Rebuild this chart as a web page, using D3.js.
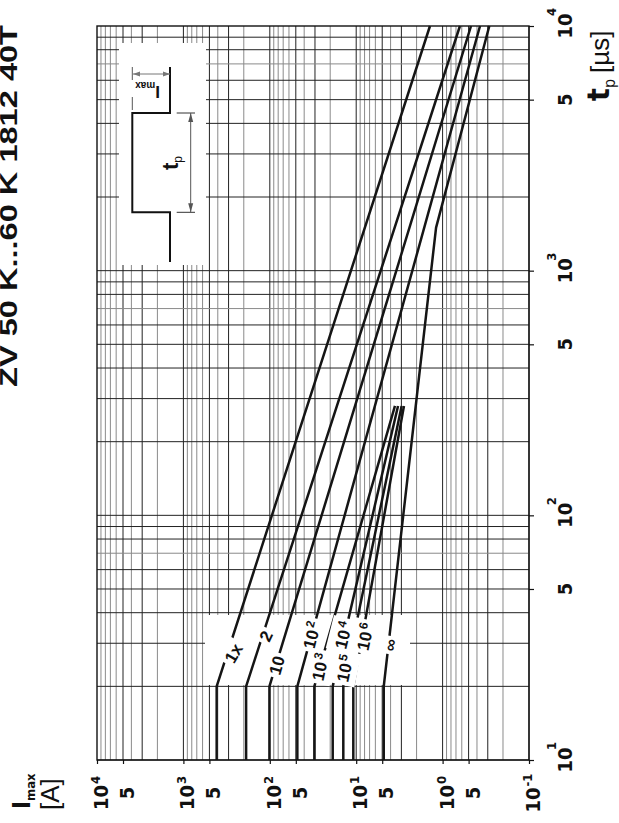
<!DOCTYPE html>
<html>
<head>
<meta charset="utf-8">
<script src="https://cdn.jsdelivr.net/npm/d3@7/dist/d3.min.js"></script>
<style>
  body { margin: 0; background: #fff; }
  svg { display: block; }
  text { font-family: "Liberation Sans Narrow", "DejaVu Sans Condensed", "Liberation Sans", Arial, sans-serif; fill: #111; }
</style>
</head>
<body>
<svg id="chart" width="619" height="823"></svg>
<script>
// the chart is a datasheet plot turned on its side:
// I_max runs left -> right (10^4 .. 10^-1), t_p runs bottom -> top (10 .. 10^4 us)

// surge curves, one entry per number of pulses
var curveNames = ["1x", "2", "10", "10", "10", "10", "10", "10", "\u221e"];
var curveExps  = ["", "", "", "2", "3", "4", "5", "6", ""];
var curveTp = [
  [10, 20, 10000],
  [10, 20, 10000],
  [10, 20, 10000],
  [10, 20, 10000],
  [10, 20, 280],
  [10, 20, 280],
  [10, 20, 280],
  [10, 20, 280],
  [10, 20, 1500, 10000]
];
var curveI = [
  [412, 412, 1.40],
  [188, 188, 0.63],
  [101, 101, 0.469],
  [48, 48, 0.369],
  [30.5, 30.5, 3.56],
  [18.7, 18.7, 3.28],
  [14.1, 14.1, 2.98],
  [10.8, 10.8, 2.80],
  [4.8, 4.8, 1.19, 0.288]
];
// where each curve name sits (in data units)
var labelTp = [27.3, 32.1, 24.4, 32.4, 24.0, 32.4, 23.7, 31.9, 29.5];
var labelI  = [264, 111, 83.2, 32.7, 26.2, 14.1, 13.5, 7.9, 4.06];

// tick labels
var iTickValues = [1e4, 5e3, 1e3, 500, 100, 50, 10, 5, 1, 0.5, 0.1];
var iTickBase   = ["10", "5", "10", "5", "10", "5", "10", "5", "10", "5", "10"];
var iTickExp    = ["4", "", "3", "", "2", "", "1", "", "0", "", "-1"];
var tpTickValues = [10, 50, 100, 500, 1000, 5000, 10000];
var tpTickBase   = ["10", "5", "10", "5", "10", "5", "10"];
var tpTickExp    = ["1", "", "2", "", "3", "", "4"];

var title = "ZV 50 K...60 K 1812 40T";

(function () {
var pL = 97, pR = 529, pT = 26, pB = 760;

var x = d3.scaleLog().domain([1e4, 0.1]).range([pL, pR]);
var y = d3.scaleLog().domain([10, 1e4]).range([pB, pT]);

var svg = d3.select("#chart");

// grid values 1..9 x 10^k
var iGrid = [], tpGrid = [];
for (var k = -1; k <= 3; k++) for (var m = 1; m <= 9; m++) iGrid.push({v: m * Math.pow(10, k), m: m});
for (var k = 1; k <= 3; k++) for (var m = 1; m <= 9; m++) tpGrid.push({v: m * Math.pow(10, k), m: m});

var grid = svg.append("g");
grid.selectAll("line.v").data(iGrid).enter().append("line")
  .attr("x1", function (d) { return x(d.v); })
  .attr("x2", function (d) { return x(d.v); })
  .attr("y1", pT).attr("y2", pB)
  .attr("stroke", function (d) { return (d.m == 1 || d.m == 3 || d.m == 5) ? "#222" : "#8a8a8a"; })
  .attr("stroke-width", 1);
grid.selectAll("line.h").data(tpGrid).enter().append("line")
  .attr("y1", function (d) { return y(d.v); })
  .attr("y2", function (d) { return y(d.v); })
  .attr("x1", pL).attr("x2", pR)
  .attr("stroke", function (d) { return (d.m == 7) ? "#8a8a8a" : "#222"; })
  .attr("stroke-width", 1);

// white patches (inset and curve names)
svg.append("rect").attr("x", 119).attr("y", 43).attr("width", 87).attr("height", 222).attr("fill", "#fff");
svg.append("rect").attr("x", 205).attr("y", 615).attr("width", 205).attr("height", 70).attr("fill", "#fff");

// frame
svg.append("rect").attr("x", pL).attr("y", pT).attr("width", pR - pL).attr("height", pB - pT)
  .attr("fill", "none").attr("stroke", "#111").attr("stroke-width", 1.4);

// axes ticks
var ax1 = svg.append("g").attr("transform", "translate(0," + pB + ")")
  .call(d3.axisBottom(x).tickValues(iTickValues).tickSize(4).tickFormat(""));
ax1.select(".domain").remove();
var ax2 = svg.append("g").attr("transform", "translate(" + pR + ",0)")
  .call(d3.axisRight(y).tickValues(tpTickValues).tickSize(5).tickFormat(""));
ax2.select(".domain").remove();
svg.selectAll(".tick line").attr("stroke", "#111").attr("stroke-width", 1.2);

// curves
var line = d3.line().x(function (d) { return x(d[1]); }).y(function (d) { return y(d[0]); });
curveTp.forEach(function (tps, i) {
  var pts = tps.map(function (t, j) { return [t, curveI[i][j]]; });
  svg.append("path").attr("d", line(pts)).attr("fill", "none")
    .attr("stroke", "#151515").attr("stroke-width", 2.5).attr("stroke-linejoin", "round");
});

// curve names with white gaps
var labelAngle = [-60, -64, -74, -76, -78, -76, -78, -78, -80];
curveNames.forEach(function (name, i) {
  var lg = svg.append("g")
    .attr("transform", "translate(" + x(labelI[i]) + "," + y(labelTp[i]) + ") rotate(" + labelAngle[i] + ")");
  var bg = lg.append("rect").attr("fill", "#fff");
  var t = lg.append("text").attr("text-anchor", "middle").attr("dy", "0.36em")
    .attr("font-size", 17).attr("font-weight", "bold").style("font-family", "Liberation Sans, Arial, sans-serif");
  t.append("tspan").text(name);
  if (curveExps[i]) t.append("tspan").attr("dy", "-0.5em").attr("dx", 2).attr("font-size", 12).text(curveExps[i]);
  var b = t.node().getBBox();
  bg.attr("x", b.x - 3).attr("y", b.y - 3).attr("width", b.width + 6).attr("height", b.height + 6);
});

// I axis labels (rotated)
iTickValues.forEach(function (v, i) {
  var t = svg.append("g").attr("transform", "translate(" + (x(v) + 11) + ",793) rotate(-90)")
    .append("text").attr("text-anchor", "middle").attr("font-size", 20).attr("font-weight", "bold");
  t.append("tspan").text(iTickBase[i]);
  if (iTickExp[i]) t.append("tspan").attr("dy", -8).attr("dx", 1).attr("font-size", 13).text(iTickExp[i]);
});

// t_p axis labels (rotated)
tpTickValues.forEach(function (v, i) {
  var lg = svg.append("g").attr("transform", "translate(572," + y(v) + ") rotate(-90)");
  lg.append("text").attr("text-anchor", "middle").attr("font-size", 20).attr("font-weight", "bold").text(tpTickBase[i]);
  if (tpTickExp[i]) lg.append("text").attr("x", 10).attr("y", -16).attr("font-size", 13).attr("font-weight", "bold").text(tpTickExp[i]);
});

// axis titles
var at1 = svg.append("g").attr("transform", "translate(30,809) rotate(-90)").append("text");
at1.append("tspan").attr("font-size", 24).attr("font-weight", "bold").text("I");
at1.append("tspan").attr("font-size", 13).attr("font-weight", "bold").attr("dy", 5).text("max");
svg.append("g").attr("transform", "translate(59,810) rotate(-90)").append("text")
  .attr("font-size", 26).style("font-family", "Liberation Sans, Arial, sans-serif").text("[A]");

var at2 = svg.append("g").attr("transform", "translate(609,101) rotate(-90)").append("text");
at2.append("tspan").attr("font-size", 30).attr("font-weight", "bold").text("t");
at2.append("tspan").attr("font-size", 16).attr("dy", 6).text("p");
at2.append("tspan").attr("font-size", 26).attr("dy", -6).attr("dx", 6)
  .style("font-family", "Liberation Sans, Arial, sans-serif").text("[\u00b5s]");

// title
svg.append("g").attr("transform", "translate(17,25) rotate(-90)").append("text")
  .attr("text-anchor", "end").attr("font-size", 24).attr("font-weight", "bold")
  .attr("textLength", 362).attr("lengthAdjust", "spacingAndGlyphs")
  .style("font-family", "Liberation Sans, Arial, sans-serif").text(title);

// inset: pulse sketch
var ins = svg.append("g");
ins.append("path").attr("d", "M170,67 V113 H132.3 V212.3 H170 V262")
  .attr("fill", "none").attr("stroke", "#111").attr("stroke-width", 2);
ins.append("line").attr("x1", 132.3).attr("x2", 132.3).attr("y1", 67).attr("y2", 110)
  .attr("stroke", "#555").attr("stroke-width", 1).attr("stroke-dasharray", "13,17");
ins.append("line").attr("x1", 133).attr("x2", 170).attr("y1", 74).attr("y2", 74)
  .attr("stroke", "#777").attr("stroke-width", 1);
ins.append("path").attr("d", "M133,74 l7,-2.5 v5 z M170,74 l-7,-2.5 v5 z").attr("fill", "#777");
ins.append("line").attr("x1", 176.7).attr("x2", 195).attr("y1", 113).attr("y2", 113).attr("stroke", "#333");
ins.append("line").attr("x1", 176.7).attr("x2", 195).attr("y1", 212.3).attr("y2", 212.3).attr("stroke", "#333");
ins.append("line").attr("x1", 190.7).attr("x2", 190.7).attr("y1", 113).attr("y2", 212.3).attr("stroke", "#555");
ins.append("path").attr("d", "M190.7,113 l-2.5,9 h5 z M190.7,212.3 l-2.5,-9 h5 z").attr("fill", "#555");
var lt = ins.append("g").attr("transform", "translate(178,170) rotate(-90)").append("text")
  .style("font-family", "Liberation Sans, Arial, sans-serif");
lt.append("tspan").attr("font-size", 22).attr("font-weight", "bold").text("t");
lt.append("tspan").attr("font-size", 12).attr("dy", 4).text("p");
var li = ins.append("g").attr("transform", "translate(160,86) rotate(180)").append("text")
  .style("font-family", "Liberation Sans, Arial, sans-serif");
li.append("tspan").attr("font-size", 17).attr("font-weight", "bold").text("I");
li.append("tspan").attr("font-size", 10).attr("font-weight", "bold").attr("dy", 4).text("max");
})();
</script>
</body>
</html>
